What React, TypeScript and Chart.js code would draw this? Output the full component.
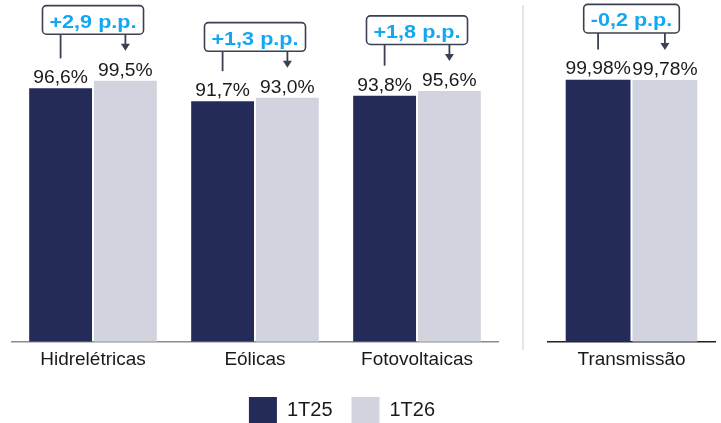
import React, { useEffect, useRef } from 'react';
import { Chart, registerables } from 'chart.js';

Chart.register(...registerables);

// ---- data ----
const leftCategories = ['Hidrelétricas', 'Eólicas', 'Fotovoltaicas'];
const rightCategories = ['Transmissão'];
const seriesNames = ['1T25', '1T26'];
const left1T25 = [96.6, 91.7, 93.8];
const left1T26 = [99.5, 93.0, 95.6];
const right1T25 = [99.98];
const right1T26 = [99.78];
const leftDeltas = ['+2,9 p.p.', '+1,3 p.p.', '+1,8 p.p.'];
const rightDeltas = ['-0,2 p.p.'];
const leftDecimals = 1;
const rightDecimals = 2;
const yMin = 0;
const yMax = 100;

// ---- styles ----
const DARK = '#252b58';
const LIGHT = '#d1d3df';
const FONT = "'Liberation Sans', Arial, Helvetica, sans-serif";
const TEXT = '#1a1a1a';
const BOX_BORDER = '#3b4150';
const BLUE = '#12a7f2';

function drawStretched(ctx: CanvasRenderingContext2D, text: string, x: number, y: number, sx: number) {
  ctx.save();
  ctx.translate(x, y);
  ctx.scale(sx, 1);
  ctx.fillText(text, 0, 0);
  ctx.restore();
}

function makeAnnotPlugin(deltas: string[], decimals: number, separator: boolean) {
  return {
    id: 'annot',
    afterDatasetsDraw(chart: any) {
      const ctx: CanvasRenderingContext2D = chart.ctx;
      const m0 = chart.getDatasetMeta(0).data;
      const m1 = chart.getDatasetMeta(1).data;
      const d0 = chart.data.datasets[0].data;
      const d1 = chart.data.datasets[1].data;
      ctx.save();
      if (separator) {
        const sx = chart.chartArea.left - 25;
        ctx.strokeStyle = '#dcdcdc';
        ctx.lineWidth = 1.5;
        ctx.beginPath();
        ctx.moveTo(sx, 5);
        ctx.lineTo(sx, 350);
        ctx.stroke();
      }
      for (let i = 0; i < m0.length; i++) {
        const b0 = m0[i];
        const b1 = m1[i];
        // value labels
        ctx.fillStyle = TEXT;
        ctx.font = `18px ${FONT}`;
        ctx.textAlign = 'center';
        ctx.textBaseline = 'alphabetic';
        const f = (v: number) => v.toFixed(decimals).replace('.', ',') + '%';
        drawStretched(ctx, f(d0[i]), b0.x, b0.y - 5, 1.07);
        drawStretched(ctx, f(d1[i]), b1.x, b1.y - 5, 1.07);
        // box
        const topBar = Math.min(b0.y, b1.y);
        const boxBottom = topBar - 46.5;
        const boxH = 28.6;
        const boxTop = boxBottom - boxH;
        ctx.font = `bold 18px ${FONT}`;
        const tw = ctx.measureText(deltas[i]).width * 1.2;
        const boxW = tw + 14;
        const cx = (b0.x + b1.x) / 2;
        // connector line from dark bar
        ctx.strokeStyle = BOX_BORDER;
        ctx.fillStyle = BOX_BORDER;
        ctx.lineWidth = 1.8;
        ctx.beginPath();
        ctx.moveTo(b0.x, boxBottom);
        ctx.lineTo(b0.x, b0.y - 30);
        ctx.stroke();
        // arrow to light bar
        const tip = b1.y - 30;
        ctx.beginPath();
        ctx.moveTo(b1.x, boxBottom);
        ctx.lineTo(b1.x, tip - 6);
        ctx.stroke();
        ctx.beginPath();
        ctx.moveTo(b1.x - 4.5, tip - 7);
        ctx.lineTo(b1.x + 4.5, tip - 7);
        ctx.lineTo(b1.x, tip);
        ctx.closePath();
        ctx.fill();
        // box
        ctx.beginPath();
        (ctx as any).roundRect(cx - boxW / 2, boxTop, boxW, boxH, 4);
        ctx.fillStyle = '#ffffff';
        ctx.fill();
        ctx.lineWidth = 1.6;
        ctx.strokeStyle = BOX_BORDER;
        ctx.stroke();
        ctx.fillStyle = BLUE;
        ctx.textAlign = 'center';
        drawStretched(ctx, deltas[i], cx, boxBottom - 6.5, 1.2);
      }
      ctx.restore();
    },
  };
}

function datasets(a: number[], b: number[]) {
  return [
    { label: seriesNames[0], data: a, backgroundColor: DARK, borderWidth: 0, categoryPercentage: 0.8, barPercentage: 0.97 },
    { label: seriesNames[1], data: b, backgroundColor: LIGHT, borderWidth: 0, categoryPercentage: 0.8, barPercentage: 0.97 },
  ];
}

function xAxis(borderColor: string) {
  return {
    type: 'category',
    grid: { display: false, drawTicks: false },
    border: { display: true, color: borderColor, width: 1.6 },
    ticks: { padding: 7, color: TEXT, font: { family: FONT, size: 19 } },
    afterFit: (s: any) => { s.height = 36.3; },
  };
}

export default function App() {
  const leftRef = useRef<HTMLCanvasElement>(null);
  const rightRef = useRef<HTMLCanvasElement>(null);

  useEffect(() => {
    const left = new Chart(leftRef.current as HTMLCanvasElement, {
      type: 'bar',
      data: { labels: leftCategories, datasets: datasets(left1T25, left1T26) as any },
      options: {
        responsive: false,
        animation: false,
        layout: { padding: { top: 79.4, left: 12, right: 49, bottom: 0 } },
        plugins: {
          tooltip: { enabled: false },
          legend: {
            position: 'bottom',
            labels: { boxWidth: 28, boxHeight: 26, padding: 19, color: TEXT, font: { family: FONT, size: 20 } },
          },
        },
        scales: {
          x: xAxis('#8c8c8c') as any,
          y: { display: false, min: yMin, max: yMax },
          y2: {
            type: 'linear', position: 'right', display: true,
            ticks: { display: false }, grid: { display: false }, border: { display: false },
            afterFit: (s: any) => { s.width = 174; },
          } as any,
        },
      },
      plugins: [makeAnnotPlugin(leftDeltas, leftDecimals, false)],
    });
    const right = new Chart(rightRef.current as HTMLCanvasElement, {
      type: 'bar',
      data: { labels: rightCategories, datasets: datasets(right1T25, right1T26) as any },
      options: {
        responsive: false,
        animation: false,
        layout: { padding: { top: 79.4, left: 548, right: 6, bottom: 55 } },
        plugins: { tooltip: { enabled: false }, legend: { display: false } },
        scales: {
          x: xAxis('#222222') as any,
          y: { display: false, min: yMin, max: yMax },
        },
      },
      plugins: [makeAnnotPlugin(rightDeltas, rightDecimals, true)],
    });
    return () => { left.destroy(); right.destroy(); };
  }, []);

  return (
    <div style={{ position: 'fixed', left: 0, top: 0, width: 721, height: 423, overflow: 'hidden', background: '#fff' }}>
      <canvas ref={leftRef} width={721} height={433} style={{ position: 'absolute', left: 0, top: 0 }} />
      <canvas ref={rightRef} width={721} height={433} style={{ position: 'absolute', left: 0, top: 0 }} />
    </div>
  );
}
